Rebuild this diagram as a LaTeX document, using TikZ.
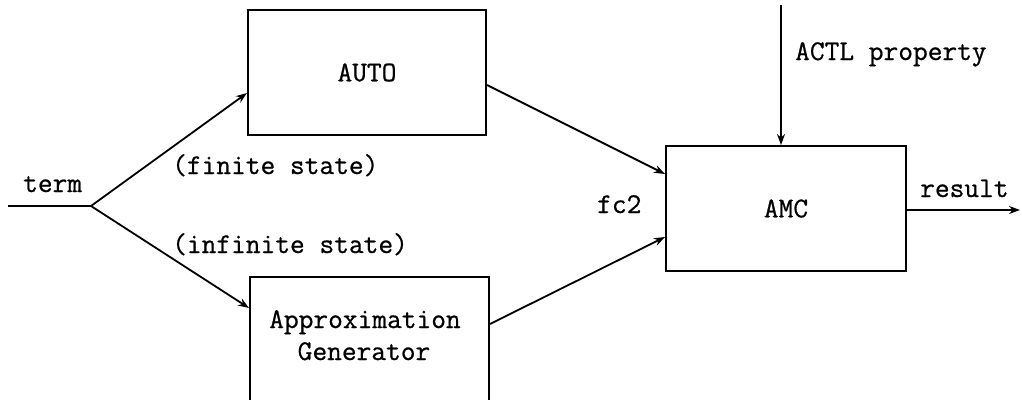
\documentclass[tikz,border=0pt]{standalone}
\usepackage{fontspec}
\newfontfamily\diagtt[FakeBold=0.7]{Latin Modern Mono}
\usetikzlibrary{arrows.meta,calc}
\begin{document}
\begin{tikzpicture}[x=1pt,y=-1pt,
  every node/.style={font=\diagtt\fontsize{28.6}{32}\selectfont, inner sep=0pt},
  block/.style={draw, line width=2pt, minimum width=#1},
  wire/.style={line width=1.8pt},
  flow/.style={wire, -{Stealth[length=11pt,width=8pt]}},
  lbl/.style={anchor=base west},
  ctr/.style={anchor=base}]
\useasboundingbox (0,0) rectangle (1022,399);
\clip (0,0) rectangle (1022,399);

% processing blocks
\node[block=238pt, minimum height=125pt] (auto) at (367,72.5) {AUTO};
\node[block=239pt, minimum height=143pt] (approx) at (369.5,348.5) {};
\node[block=240pt, minimum height=125pt] (amc) at (786,208.5) {AMC};
\node[ctr] (approxA) at (365,328) {Approximation};
\node[ctr] (approxB) at (364,360) {Generator};

% labels
\node[lbl] (term) at (23,192) {term};
\node[lbl] (fin) at (172,174) {(finite state)};
\node[lbl] (inf) at (172,253) {(infinite state)};
\node[lbl] (fc) at (597,213) {fc2};
\node[lbl] (actl) at (795,60) {ACTL property};
\node[lbl] (res) at (920,197) {result};

% connectors
\coordinate (in) at (8,206);
\coordinate (fork) at (91,206);
\coordinate (spec) at (781,5);
\coordinate (out) at (1020,210);
\draw[wire] (in) -- (fork);
\draw[flow] (fork) -- ($(auto.west)+(0,20.5)$);
\draw[flow] (fork) -- ($(approx.north west)+(0,32)$);
\draw[flow] ($(auto.east)+(0,12.5)$) -- ($(amc.north west)+(0,29)$);
\draw[flow] ($(approx.north east)+(0,48)$) -- ($(amc.north west)+(0,92)$);
\draw[flow] (spec) -- (spec |- amc.north);
\draw[flow] (amc.east |- out) -- (out);
\end{tikzpicture}
\end{document}
